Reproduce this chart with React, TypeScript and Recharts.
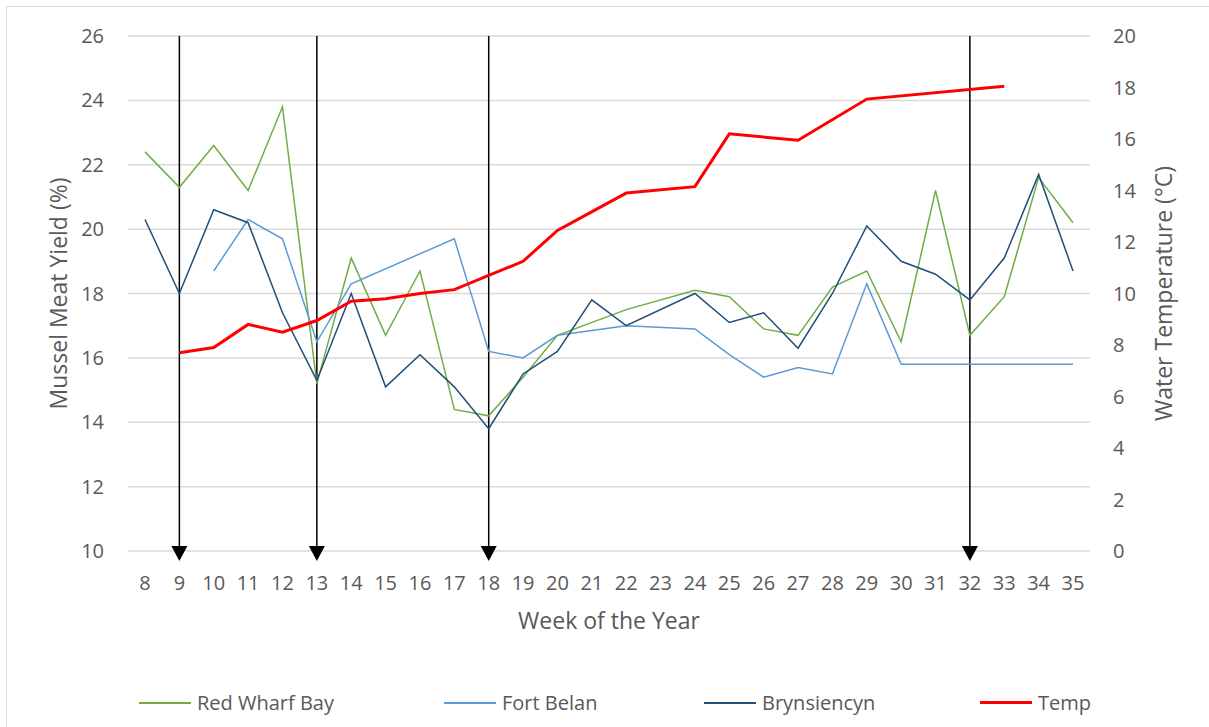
import React from 'react';
import {
  LineChart,
  Line,
  XAxis,
  YAxis,
  CartesianGrid,
  Legend,
  ReferenceLine
} from 'recharts';

// week numbers on the x axis
const weeks = [8, 9, 10, 11, 12, 13, 14, 15, 16, 17, 18, 19, 20, 21, 22, 23, 24, 25, 26, 27, 28, 29, 30, 31, 32, 33, 34, 35];

// meat yield (%) per site, null = no sample that week
const redWharfBay = [22.4, 21.3, 22.6, 21.2, 23.8, 15.2, 19.1, 16.7, 18.7, 14.4, 14.2, 15.4, 16.7, null, 17.5, null, 18.1, 17.9, 16.9, 16.7, 18.2, 18.7, 16.5, 21.2, 16.7, 17.9, 21.6, 20.2];
const fortBelan = [null, null, 18.7, 20.3, 19.7, 16.5, 18.3, null, null, 19.7, 16.2, 16.0, 16.7, null, 17.0, null, 16.9, 16.1, 15.4, 15.7, 15.5, 18.3, 15.8, 15.8, 15.8, 15.8, 15.8, 15.8];
const brynsiencyn = [20.3, 18.0, 20.6, 20.2, 17.4, 15.3, 18.0, 15.1, 16.1, 15.1, 13.8, 15.5, 16.2, 17.8, 17.0, null, 18.0, 17.1, 17.4, 16.3, 18.0, 20.1, 19.0, 18.6, 17.8, 19.1, 21.7, 18.7];

// water temperature (°C)
const temp = [null, 7.7, 7.9, 8.8, 8.5, 8.95, 9.7, 9.8, 10.0, 10.15, 10.7, 11.25, 12.45, null, 13.9, null, 14.15, 16.2, null, 15.95, null, 17.55, null, null, null, 18.05, null, null];

// weeks marked with arrows
const arrowWeeks = [9, 13, 18, 32];

const yieldTicks = [10, 12, 14, 16, 18, 20, 22, 24, 26];
const tempTicks = [0, 2, 4, 6, 8, 10, 12, 14, 16, 18, 20];

const legendOrder = ['Red Wharf Bay', 'Fort Belan', 'Brynsiencyn', 'Temp'];

const chartData = weeks.map((week, i) => ({
  week,
  redWharfBay: redWharfBay[i],
  fortBelan: fortBelan[i],
  brynsiencyn: brynsiencyn[i],
  temp: temp[i]
}));

const textColor = '#595959';
const font = '"Open Sans", sans-serif';

const ArrowLine = (props: any) => {
  const { x1, y1, y2 } = props;
  const top = Math.min(y1, y2);
  const bottom = Math.max(y1, y2);
  const tip = bottom + 10;
  return (
    <g>
      <line x1={x1} y1={top} x2={x1} y2={tip - 8} stroke="#000" strokeWidth={1.5} />
      <polygon points={`${x1 - 8},${tip - 15} ${x1 + 8},${tip - 15} ${x1},${tip}`} fill="#000" />
    </g>
  );
};

const verticalTitle = (text: string, x: number) => (props: any) => {
  const vb = props.viewBox;
  const cy = vb && vb.height ? vb.y + vb.height / 2 : 293.5;
  return (
    <text
      x={x}
      y={cy}
      transform={`rotate(-90 ${x} ${cy})`}
      textAnchor="middle"
      fill={textColor}
      fontSize={23}
      fontFamily={font}
    >
      {text}
    </text>
  );
};

// start position of every legend entry
const legendWidths = [305, 260, 276, 200];

const renderLegend = (props: any) => {
  const payload = [...(props.payload || [])].sort(
    (a: any, b: any) => legendOrder.indexOf(a.value) - legendOrder.indexOf(b.value)
  );
  return (
    <div style={{ display: 'flex', paddingLeft: 139, fontFamily: font }}>
      {payload.map((entry: any, i: number) => (
        <div key={entry.value} style={{ display: 'flex', alignItems: 'center', width: legendWidths[i] }}>
          <span
            style={{
              display: 'inline-block',
              width: 52,
              height: entry.value === 'Temp' ? 3 : 2,
              background: entry.color,
              marginRight: 6
            }}
          />
          <span style={{ color: textColor, fontSize: 20 }}>{entry.value}</span>
        </div>
      ))}
    </div>
  );
};

const App: React.FC = () => {
  return (
    <div style={{ position: 'absolute', left: 0, top: 0, width: 1209, height: 727, background: '#fff', overflow: 'hidden' }}>
      <div
        style={{
          position: 'absolute',
          left: 6,
          top: 6,
          width: 1203,
          height: 721,
          borderLeft: '1px solid #d9d9d9',
          borderTop: '1px solid #d9d9d9'
        }}
      />
      <LineChart
        width={1209}
        height={727}
        data={chartData}
        margin={{ top: 36, right: 0, bottom: 0, left: 0 }}
        style={{ fontFamily: font }}
      >
        <CartesianGrid yAxisId="left" vertical={false} stroke="#d9d9d9" strokeWidth={1.5} />
        <XAxis
          dataKey="week"
          type="category"
          padding={{ left: 17, right: 17 }}
          height={176}
          axisLine={false}
          tickLine={false}
          tickMargin={19}
          interval={0}
          tick={{ fill: textColor, fontSize: 20 }}
          label={{
            value: 'Week of the Year',
            position: 'insideTop',
            offset: 62,
            fill: textColor,
            fontSize: 23
          }}
        />
        <YAxis
          yAxisId="left"
          width={128}
          domain={[10, 26]}
          ticks={yieldTicks}
          interval={0}
          axisLine={false}
          tickLine={false}
          tickMargin={18}
          tick={{ fill: textColor, fontSize: 20 }}
          label={{ value: 'Mussel Meat Yield (%)', content: verticalTitle('Mussel Meat Yield (%)', 67) }}
        />
        <YAxis
          yAxisId="right"
          orientation="right"
          width={119}
          domain={[0, 20]}
          ticks={tempTicks}
          interval={0}
          axisLine={false}
          tickLine={false}
          tickMargin={17}
          tick={{ fill: textColor, fontSize: 20, textAnchor: 'start' }}
          label={{ value: 'Water Temperature (°C)', content: verticalTitle('Water Temperature (°C)', 1172) }}
        />
        <Legend
          layout="horizontal"
          verticalAlign="middle"
          align="center"
          wrapperStyle={{ top: 689, left: 0, width: 1209 }}
          content={renderLegend}
        />
        {arrowWeeks.map(w => (
          <ReferenceLine key={w} x={w} yAxisId="left" shape={ArrowLine} />
        ))}
        <Line
          yAxisId="left"
          type="linear"
          dataKey="redWharfBay"
          name="Red Wharf Bay"
          stroke="#70ad47"
          strokeWidth={1.5}
          dot={false}
          connectNulls
          isAnimationActive={false}
        />
        <Line
          yAxisId="left"
          type="linear"
          dataKey="fortBelan"
          name="Fort Belan"
          stroke="#5b9bd5"
          strokeWidth={1.5}
          dot={false}
          connectNulls
          isAnimationActive={false}
        />
        <Line
          yAxisId="left"
          type="linear"
          dataKey="brynsiencyn"
          name="Brynsiencyn"
          stroke="#1f4e79"
          strokeWidth={1.5}
          dot={false}
          connectNulls
          isAnimationActive={false}
        />
        <Line
          yAxisId="right"
          type="linear"
          dataKey="temp"
          name="Temp"
          stroke="#ff0000"
          strokeWidth={3}
          dot={false}
          connectNulls
          isAnimationActive={false}
        />
      </LineChart>
    </div>
  );
};

export default App;
